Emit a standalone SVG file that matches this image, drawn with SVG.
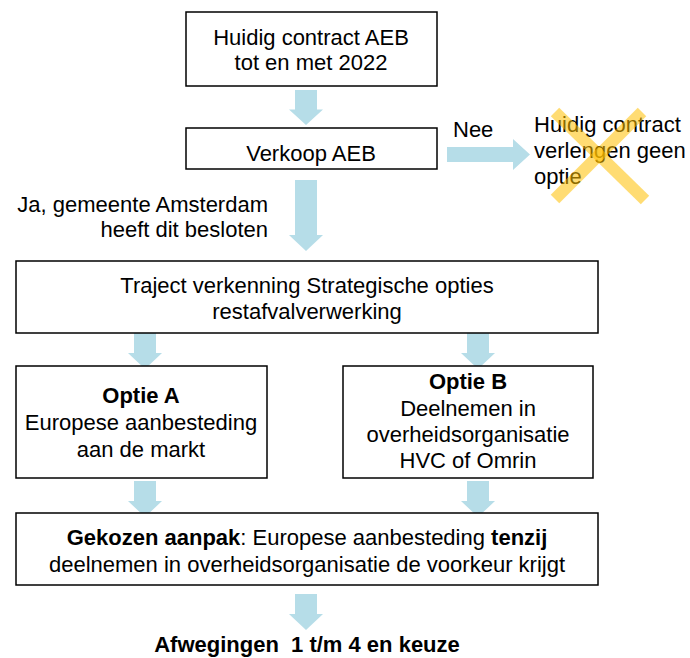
<svg xmlns="http://www.w3.org/2000/svg" width="690" height="658" viewBox="0 0 690 658">
<style>
.box{fill:#fff;stroke:#000;stroke-width:1.5}
text{font-family:"Liberation Sans",Arial,sans-serif;font-size:22px;fill:#000}
.c{text-anchor:middle}
.r{text-anchor:end}
.b{font-weight:bold}
.arr{fill:#B6DDE8}
</style>
<defs>
<path id="down" d="M-11,0 H11 V20 H17 L0,36 L-17,20 H-11 Z"/>
</defs>
<rect width="690" height="658" fill="#fff"/>
<g id="connectors">
<use href="#down" class="arr" transform="translate(306,90) scale(1,0.97)"/>
<path class="arr" d="M295,180 H317 V235 H323 L306,251 L289,235 H295 Z"/>
<path class="arr" d="M447,147 H513 V139 L530,154.5 L513,170 V162 H447 Z"/>
<use href="#down" class="arr" transform="translate(145,333)"/>
<use href="#down" class="arr" transform="translate(478,333)"/>
<use href="#down" class="arr" transform="translate(145,481)"/>
<use href="#down" class="arr" transform="translate(478,481)"/>
<use href="#down" class="arr" transform="translate(306,594)"/>
</g>
<g id="n1">
<rect class="box" x="186" y="12" width="251" height="74"/>
<text class="c" x="311" y="45">Huidig contract AEB</text>
<text class="c" x="311" y="70">tot en met 2022</text>
</g>
<g id="n2">
<rect class="box" x="186" y="128" width="251" height="41"/>
<text class="c" x="311" y="161">Verkoop AEB</text>
</g>
<g id="nee">
<text x="453" y="137">Nee</text>
</g>
<g id="n-verlengen">
<text x="534" y="132">Huidig contract</text>
<text x="534" y="158">verlengen geen</text>
<text x="534" y="184">optie</text>
<g stroke="#FFC000" stroke-opacity="0.55" stroke-width="12">
<line x1="555" y1="112" x2="645" y2="200"/>
<line x1="642" y1="112" x2="555" y2="199"/>
</g>
</g>
<g id="ja">
<text class="r" x="268" y="212">Ja, gemeente Amsterdam</text>
<text class="r" x="268" y="237">heeft dit besloten</text>
</g>
<g id="n3">
<rect class="box" x="16" y="261" width="582" height="72"/>
<text class="c" x="307" y="293">Traject verkenning Strategische opties</text>
<text class="c" x="307" y="319">restafvalverwerking</text>
</g>
<g id="optieA">
<rect class="box" x="16" y="366" width="251" height="112"/>
<text class="c b" x="141" y="403">Optie A</text>
<text class="c" x="141" y="430">Europese aanbesteding</text>
<text class="c" x="141" y="457">aan de markt</text>
</g>
<g id="optieB">
<rect class="box" x="343" y="366" width="250" height="112"/>
<text class="c b" x="468" y="389">Optie B</text>
<text class="c" x="468" y="416">Deelnemen in</text>
<text class="c" x="468" y="442">overheidsorganisatie</text>
<text class="c" x="468" y="468">HVC of Omrin</text>
</g>
<g id="gekozen">
<rect class="box" x="16" y="513" width="582" height="72"/>
<text class="c" x="307" y="545"><tspan class="b">Gekozen aanpak</tspan>: Europese aanbesteding <tspan class="b">tenzij</tspan></text>
<text class="c" x="307" y="572">deelnemen in overheidsorganisatie de voorkeur krijgt</text>
</g>
<g id="afwegingen">
<text class="c b" x="307" y="652" xml:space="preserve">Afwegingen  1 t/m 4 en keuze</text>
</g>
</svg>
